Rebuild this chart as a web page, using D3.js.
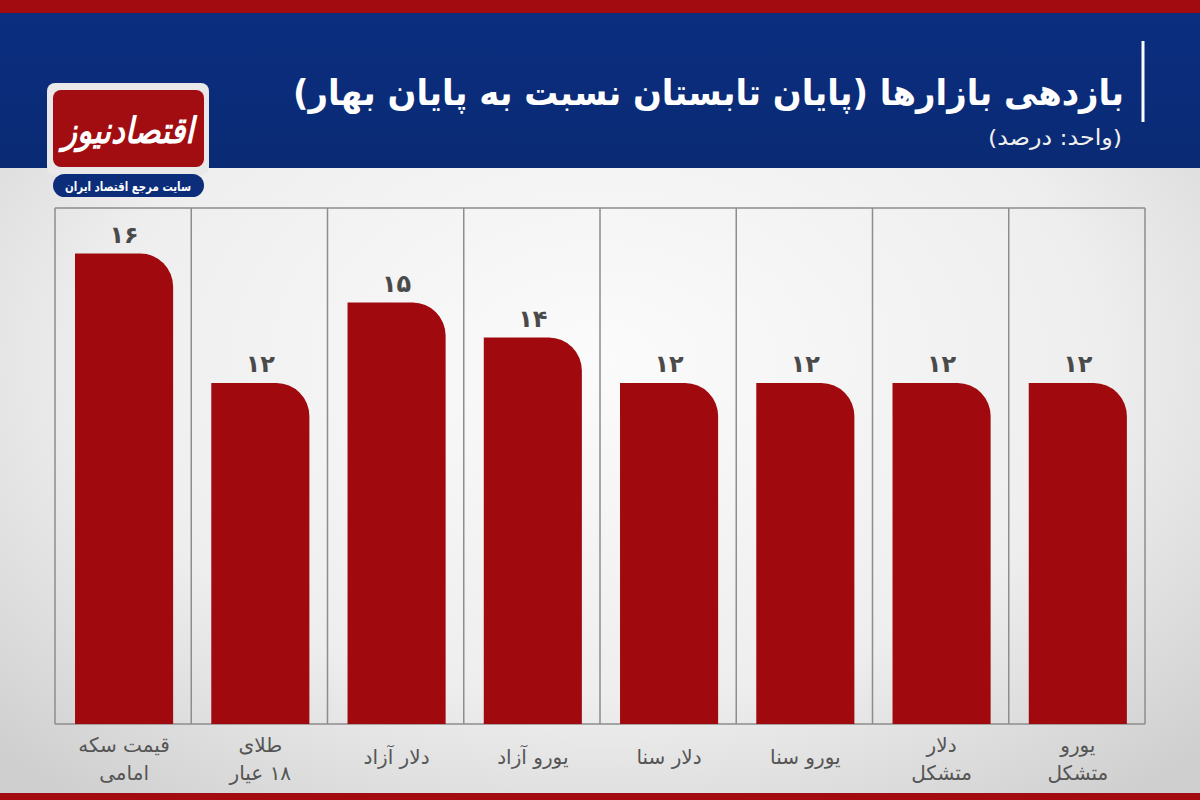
<!DOCTYPE html>
<html lang="fa">
<head>
<meta charset="utf-8">
<script src="https://cdn.jsdelivr.net/npm/d3@7"></script>
<style>
  html, body { margin: 0; padding: 0; background: #fff; }
  svg { display: block; }
  text { font-family: "DejaVu Sans", "Noto Sans", sans-serif; }
</style>
</head>
<body>
<svg id="chart" width="1200" height="800"></svg>
<script>
// ---- data ----
const categories = [
  "قیمت سکه\nامامی",
  "طلای\n۱۸ عیار",
  "دلار آزاد",
  "یورو آزاد",
  "دلار سنا",
  "یورو سنا",
  "دلار\nمتشکل",
  "یورو\nمتشکل"
];
const values = [16.0, 12.3, 14.6, 13.6, 12.3, 12.3, 12.3, 12.3];
const yDomain = [2.56, 17.3];
const titleText = "بازدهی بازارها (پایان تابستان نسبت به پایان بهار)";
const subtitleText = "(واحد: درصد)";
const logoText = "اقتصادنیوز";
const logoTagline = "سایت مرجع اقتصاد ایران";

const toFa = s => String(s).replace(/[0-9]/g, d => "۰۱۲۳۴۵۶۷۸۹"[+d]);

const W = 1200, H = 800;
const svg = d3.select("#chart");
const defs = svg.append("defs");

// background gradient
const bg = defs.append("radialGradient").attr("id", "bgGrad")
  .attr("cx", "50%").attr("cy", "45%").attr("r", "70%");
bg.append("stop").attr("offset", "0%").attr("stop-color", "#fbfbfb");
bg.append("stop").attr("offset", "60%").attr("stop-color", "#eeeeee");
bg.append("stop").attr("offset", "100%").attr("stop-color", "#cfcfcf");

const hdr = defs.append("linearGradient").attr("id", "hdrGrad")
  .attr("x1", "0").attr("y1", "0").attr("x2", "0").attr("y2", "1");
hdr.append("stop").attr("offset", "0%").attr("stop-color", "#0b2e80");
hdr.append("stop").attr("offset", "100%").attr("stop-color", "#0a2a74");

svg.append("rect").attr("width", W).attr("height", H).attr("fill", "url(#bgGrad)");

// header
svg.append("rect").attr("x", 0).attr("y", 0).attr("width", W).attr("height", 168).attr("fill", "url(#hdrGrad)");
svg.append("rect").attr("x", 0).attr("y", 0).attr("width", W).attr("height", 13).attr("fill", "#a20b0f");
svg.append("rect").attr("x", 0).attr("y", 793).attr("width", W).attr("height", 7).attr("fill", "#a20b0f");

// title
svg.append("line").attr("x1", 1143).attr("x2", 1143).attr("y1", 41).attr("y2", 122)
  .attr("stroke", "#ffffff").attr("stroke-width", 3);
svg.append("text").attr("x", 1124).attr("y", 105).attr("text-anchor", "start")
  .attr("direction", "rtl")
  .attr("textLength", 831).attr("lengthAdjust", "spacingAndGlyphs")
  .attr("fill", "#ffffff").attr("font-size", 36).attr("font-weight", "bold")
  .text(titleText);
svg.append("text").attr("x", 1122).attr("y", 145).attr("text-anchor", "start")
  .attr("direction", "rtl")
  .attr("textLength", 134).attr("lengthAdjust", "spacingAndGlyphs")
  .attr("fill", "#f0f0f0").attr("font-size", 22)
  .text(subtitleText);

// logo
const logo = svg.append("g");
logo.append("rect").attr("x", 47).attr("y", 83).attr("width", 162).attr("height", 92).attr("rx", 8)
  .attr("fill", "#e9e9e9");
logo.append("rect").attr("x", 53).attr("y", 90).attr("width", 151).attr("height", 77).attr("rx", 8)
  .attr("fill", "#a10d10");
logo.append("text").attr("x", 128).attr("y", 143).attr("text-anchor", "middle")
  .attr("direction", "rtl")
  .attr("textLength", 132).attr("lengthAdjust", "spacingAndGlyphs")
  .attr("fill", "#ffffff").attr("font-size", 36).attr("font-weight", "bold").attr("font-style", "italic")
  .text(logoText);
logo.append("rect").attr("x", 53).attr("y", 174).attr("width", 151).attr("height", 23).attr("rx", 11.5)
  .attr("fill", "#0b2d7a");
logo.append("text").attr("x", 128).attr("y", 190.5).attr("text-anchor", "middle")
  .attr("direction", "rtl")
  .attr("textLength", 126).attr("lengthAdjust", "spacingAndGlyphs")
  .attr("fill", "#ffffff").attr("font-size", 13).attr("font-weight", "bold")
  .text(logoTagline);

// scales
const x = d3.scaleBand().domain(categories).range([55, 1145]).paddingInner(0).paddingOuter(0);
const y = d3.scaleLinear().domain(yDomain).range([724, 208]);
const step = x.step();
const barOff = step * 0.147, barW = step * 0.72;

// grid
const grid = svg.append("g").attr("stroke", "#8d8d8d").attr("stroke-width", 1.5).attr("fill", "none");
grid.append("line").attr("x1", 55).attr("x2", 1145).attr("y1", y(yDomain[1])).attr("y2", y(yDomain[1]));
grid.append("line").attr("x1", 55).attr("x2", 1145).attr("y1", y(yDomain[0])).attr("y2", y(yDomain[0]));
const bounds = categories.map(c => x(c)).concat([x(categories[categories.length - 1]) + step]);
grid.selectAll("line.v").data(bounds).join("line").attr("class", "v")
  .attr("x1", d => d).attr("x2", d => d).attr("y1", y(yDomain[1])).attr("y2", y(yDomain[0]));

// bars with rounded top-right corner
function barPath(x0, y0, w, h, r) {
  r = Math.min(r, w, h);
  return `M${x0},${y0 + h}V${y0}H${x0 + w - r}A${r},${r} 0 0 1 ${x0 + w},${y0 + r}V${y0 + h}Z`;
}
const data = categories.map((c, i) => ({ c, v: values[i] }));
svg.append("g").selectAll("path").data(data).join("path")
  .attr("d", d => barPath(x(d.c) + barOff, y(d.v), barW, y(yDomain[0]) - y(d.v), 33))
  .attr("fill", "#a00a0e");

// value labels
svg.append("g").selectAll("text").data(data).join("text")
  .attr("x", d => x(d.c) + barOff + barW / 2)
  .attr("y", d => y(d.v) - 11)
  .attr("text-anchor", "middle")
  .attr("letter-spacing", -3)
  .attr("fill", "#4a4a4a").attr("font-size", 24).attr("font-weight", "bold")
  .text(d => toFa(Math.round(d.v)));

// category labels
const cl = svg.append("g").selectAll("text").data(data).join("text")
  .attr("text-anchor", "middle").attr("direction", "rtl")
  .attr("fill", "#555555").attr("font-size", 20)
  .attr("x", d => x(d.c) + barOff + barW / 2)
  .attr("y", d => d.c.includes("\n") ? 752 : 764);
cl.each(function(d) {
  const lines = d.c.split("\n");
  d3.select(this).selectAll("tspan").data(lines).join("tspan")
    .attr("x", x(d.c) + barOff + barW / 2)
    .attr("dy", (l, i) => i === 0 ? 0 : 28)
    .text(l => l);
});
</script>
</body>
</html>
